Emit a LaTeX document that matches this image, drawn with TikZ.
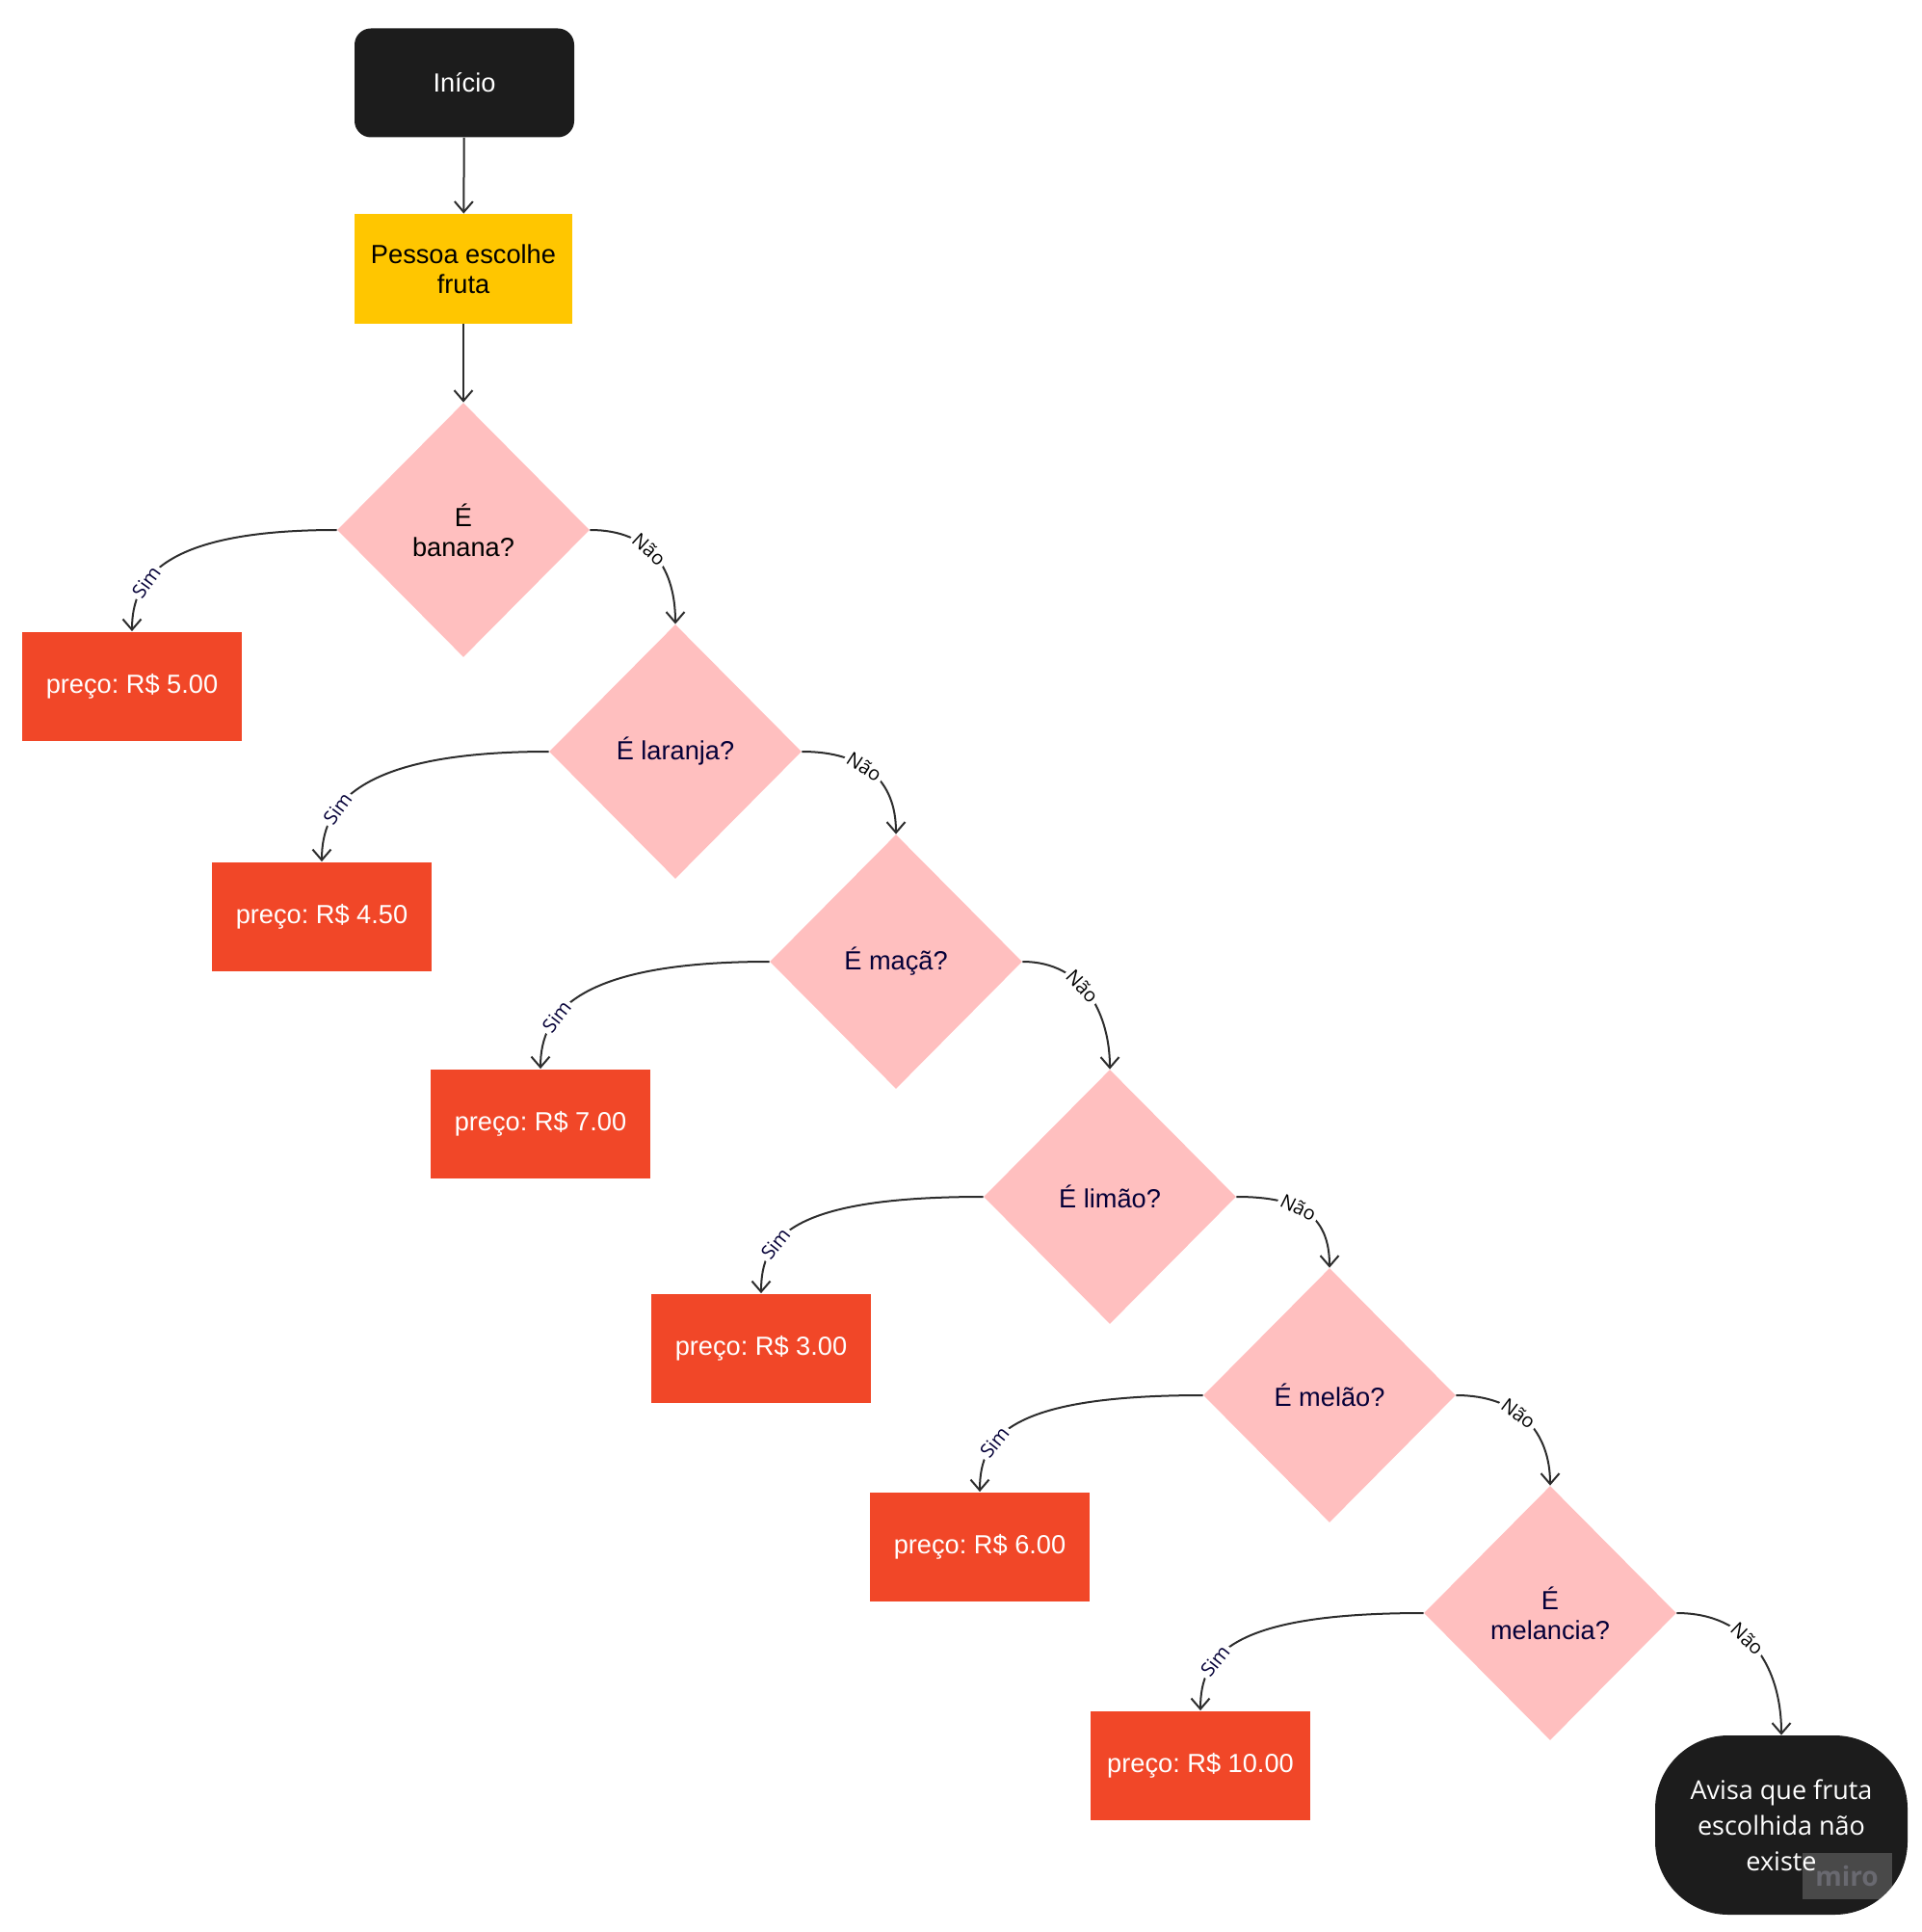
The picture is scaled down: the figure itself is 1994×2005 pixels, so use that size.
\documentclass[tikz,border=0pt]{standalone}
\usepackage{fontspec}
\setmainfont{Liberation Sans}
\newfontfamily\osans{Open Sans}
\usetikzlibrary{shapes.geometric,arrows.meta}
\definecolor{nblack}{RGB}{28,28,28}
\definecolor{nyellow}{RGB}{255,198,0}
\definecolor{npink}{RGB}{255,191,191}
\definecolor{nred}{RGB}{241,71,40}
\definecolor{nnavy}{RGB}{5,0,56}
\definecolor{nline}{RGB}{45,45,45}
\definecolor{mirotext}{RGB}{105,105,112}
\frenchspacing
\begin{document}
\begin{tikzpicture}[x=0.5pt,y=-0.5pt,
 base/.style={font=\frenchspacing\fontsize{13.6}{15.4}\selectfont, align=center, inner sep=0pt},
 startbox/.style={base, fill=nblack, text=white, rounded corners=8.5pt, minimum width=114pt, minimum height=56.5pt},
 procbox/.style={base, fill=nyellow, text=black, minimum width=113pt, minimum height=57pt},
 decbox/.style={base, shape=diamond, fill=npink, text=nnavy, minimum width=131pt, minimum height=132pt},
 pricebox/.style={base, fill=nred, text=white, minimum width=114pt, minimum height=56.5pt},
 endbox/.style={fill=nblack, text=white, rounded corners=38pt, minimum width=131pt, minimum height=93pt, align=center, inner sep=0pt, font=\osans\fontsize{13.5}{18.5}\selectfont},
 conn/.style={draw=nline, line width=1pt, -{Straight Barb[length=5.5pt,width=9.5pt]}},
 lbl/.style={font=\osans\fontsize{10}{11}\selectfont, sloped, fill=white, inner sep=1.5pt},
 simlbl/.style={lbl, text=nnavy, pos=0.67},
 naolbl/.style={lbl, text=black, pos=0.42},
]
\useasboundingbox (0,0) rectangle (1994,2005);

\node[startbox] (inicio) at (482,86) {Início};
\node[procbox] (pessoa) at (481,279) {Pessoa escolhe\\fruta};

\node[decbox, text=black] (d1) at (481,550) {É\\banana?};
\node[decbox] (d2) at (701,780) {É laranja?};
\node[decbox] (d3) at (930,998) {É maçã?};
\node[decbox] (d4) at (1152,1242) {É limão?};
\node[decbox] (d5) at (1380,1448) {É melão?};
\node[decbox] (d6) at (1609,1674) {É\\melancia?};

\node[pricebox] (p1) at (137,712) {preço: R\$ 5.00};
\node[pricebox] (p2) at (334,951) {preço: R\$ 4.50};
\node[pricebox] (p3) at (561,1166) {preço: R\$ 7.00};
\node[pricebox] (p4) at (790,1399) {preço: R\$ 3.00};
\node[pricebox] (p5) at (1017,1605) {preço: R\$ 6.00};
\node[pricebox] (p6) at (1246,1832) {preço: R\$ 10.00};

\node[endbox] (fim) at (1849,1894) {Avisa que fruta\\escolhida não\\existe};
\node[fill=white, fill opacity=0.2, text opacity=1, text=mirotext, minimum width=46.5pt, minimum height=24pt, inner sep=0pt, font=\osans\bfseries\fontsize{14}{14}\selectfont] (miro) at (1917,1947) {miro};

\draw[conn] (inicio) -- (pessoa);
\draw[conn] (pessoa) -- (d1);

\draw[conn] (d1.west) .. controls +(-180,0) and +(0,-55) .. node[simlbl]{Sim} (p1.north);
\draw[conn] (d2.west) .. controls +(-200,0) and +(0,-58) .. node[simlbl]{Sim} (p2.north);
\draw[conn] (d3.west) .. controls +(-200,0) and +(0,-58) .. node[simlbl]{Sim} (p3.north);
\draw[conn] (d4.west) .. controls +(-200,0) and +(0,-58) .. node[simlbl]{Sim} (p4.north);
\draw[conn] (d5.west) .. controls +(-200,0) and +(0,-58) .. node[simlbl]{Sim} (p5.north);
\draw[conn] (d6.west) .. controls +(-200,0) and +(0,-58) .. node[simlbl]{Sim} (p6.north);

\draw[conn] (d1.east) .. controls +(65,0) and +(0,-55) .. node[naolbl]{Não} (d2.north);
\draw[conn] (d2.east) .. controls +(65,0) and +(0,-55) .. node[naolbl]{Não} (d3.north);
\draw[conn] (d3.east) .. controls +(65,0) and +(0,-55) .. node[naolbl]{Não} (d4.north);
\draw[conn] (d4.east) .. controls +(65,0) and +(0,-55) .. node[naolbl]{Não} (d5.north);
\draw[conn] (d5.east) .. controls +(65,0) and +(0,-55) .. node[naolbl]{Não} (d6.north);
\draw[conn] (d6.east) .. controls +(75,0) and +(0,-70) .. node[naolbl]{Não} (fim.north);
\end{tikzpicture}
\end{document}
